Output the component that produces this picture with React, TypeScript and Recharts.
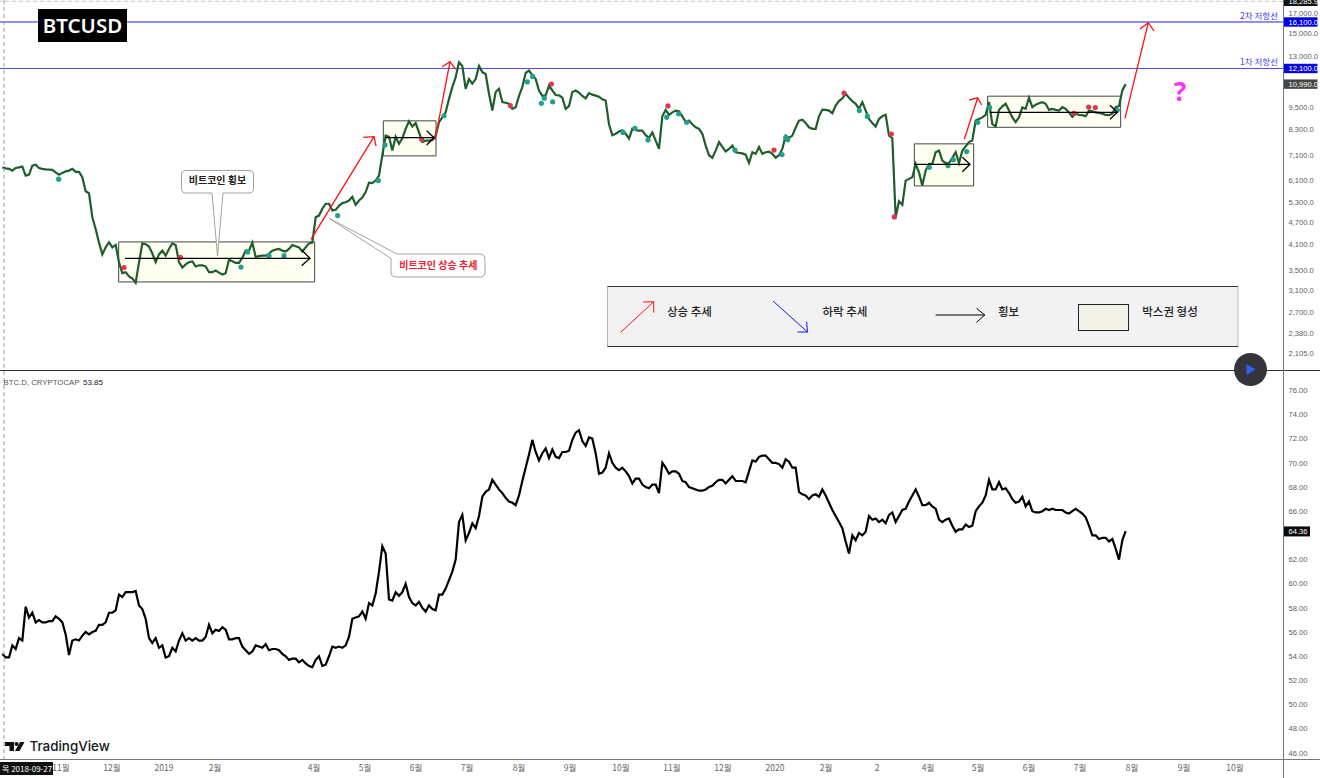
import { ComposedChart, Line, Scatter, XAxis, YAxis, ReferenceLine, ReferenceArea } from "recharts";

const WIDTH = 1320;
const TOP_HEIGHT = 370;
const BOTTOM_HEIGHT = 407;
const SANS = '"Liberation Sans", Arial, sans-serif';
const KOREAN = '"Noto Sans CJK KR", "Noto Sans", sans-serif';

// one sample every two days or so, starting at the end of september 2018
const btcPrices = [
  6590, 6550, 6530, 6460, 6565, 6590, 6620, 6265, 6300, 6660, 6700, 6565, 6530, 6510, 6500, 6490, 6390, 6300, 6370, 6430,
  6460, 6530, 6410, 6410, 6200, 5690, 5620, 4850, 4510, 4150, 3860, 4030, 4160, 4030, 4090, 3675, 3440, 3460, 3370, 3330,
  3240, 3675, 4130, 4110, 4050, 3880, 3680, 3860, 3950, 3830, 3990, 4130, 4090, 3680, 3560, 3630, 3680, 3695, 3585, 3610,
  3610, 3585, 3460, 3460, 3495, 3450, 3410, 3440, 3735, 3700, 3665, 3665, 3780, 3950, 3950, 4150, 3800, 3820, 3830, 3830,
  3880, 3950, 3975, 3990, 3950, 3930, 3990, 4090, 4060, 4030, 3930, 4030, 4130, 4150, 4850, 4900, 5110, 5270, 5270, 5055,
  5075, 5200, 5290, 5320, 5375, 5500, 5235, 5375, 5475, 5660, 6000, 5980, 6075, 6265, 7100, 8010, 7950, 7305, 7950, 7620,
  7880, 8350, 8750, 8470, 8650, 8170, 7700, 7770, 7770, 7800, 8010, 8700,
  8960, 9240, 10040, 10790, 11460, 12570, 12280, 10680, 11340, 11030, 11340, 12280, 11830, 11700, 10360, 9340, 10470, 10680, 9840, 9800,
  9740, 9440, 9540, 10220, 10790, 11780, 11950, 11620, 11340, 10570, 10220, 10260, 10890, 10570, 10280, 10260, 10110, 9440, 9600, 10470,
  10570, 10430, 10220, 10070, 10400, 10300, 10240, 10170, 10010, 9940, 8590, 8030, 8100, 8210, 8280, 8100, 7860, 8350, 8280, 8260,
  8260, 8030, 7900, 8170, 7770, 7380, 9020, 9380, 9100, 9240, 9340, 9300, 9020, 8700, 8785, 8590, 8430, 8350, 8100, 7530,
  7100, 6990, 7305, 7700, 7470, 7270, 7380, 7530, 7230, 7200, 7180, 7125, 6770, 7230, 7160, 7470, 7160, 7230, 7260, 7160,
  6990, 7100, 7380, 8010, 7900, 8010, 8410, 8785, 8830, 8650, 8430, 8350, 8350, 9020, 9400, 9380, 9340, 9190, 9640, 9900,
  10070, 10360, 10110, 9900, 9740, 9440, 9840, 9340, 8870, 8650, 8470, 8870,
  9020, 9100, 8010, 7880, 4850, 5350, 5235, 6075, 6140, 6200, 6730, 6390, 5890, 6460, 6730, 6730, 7230, 7305, 6870, 6760,
  6760, 6990, 7230, 6770, 7305, 7500, 7700, 7770, 8785, 8870, 8960, 9100, 9840, 8590, 8470, 9380, 9590, 9740, 9340, 8960,
  8700, 8960, 9520, 9440, 10110, 9540, 9690, 9770, 9840, 9740, 9380, 9440, 9380, 9340, 9540, 9440, 9240, 8990, 9160, 9100,
  9080, 9020, 9340, 9300, 9240, 9210, 9160, 9100, 9080, 9160, 9540, 9610, 10570, 10990,
];

const dominanceValues = [
  54.2, 53.9, 53.9, 54.9, 54.6, 55.5, 55.3, 58.1, 57.2, 57.6, 56.8, 57.0, 56.8, 56.8, 56.9, 56.9, 57.3, 57.1, 56.8, 55.8,
  54.1, 55.3, 55.4, 55.3, 55.7, 56.0, 55.8, 56.0, 56.1, 56.6, 56.6, 56.8, 57.6, 57.6, 57.8, 59.1, 58.9, 59.3, 59.3, 59.3,
  59.4, 58.2, 57.9, 57.1, 55.5, 55.1, 55.5, 54.7, 54.9, 53.9, 54.0, 54.7, 54.4, 55.3, 55.9, 55.3, 55.5, 55.3, 55.5, 55.3,
  55.3, 55.6, 56.6, 55.9, 56.2, 56.1, 56.4, 56.2, 55.4, 55.4, 55.5, 55.5, 54.8, 54.5, 54.2, 54.4, 54.9, 54.8, 54.7, 55.0,
  54.5, 54.6, 54.6, 54.5, 54.2, 54.0, 53.7, 53.8, 53.8, 53.5, 53.7, 53.4, 53.2, 53.1, 53.7, 54.0, 53.2, 53.3, 54.0, 54.8,
  54.7, 54.8, 54.7, 54.9, 55.6, 57.1, 57.2, 57.3, 57.7, 57.1, 58.4, 58.2, 59.2, 61.0, 63.1, 62.5, 58.7, 58.6, 59.3, 59.0,
  59.3, 60.0, 58.9, 58.4, 58.2, 58.5, 58.0, 57.7, 58.2, 57.9, 57.8, 59.1,
  59.1, 59.6, 60.3, 61.0, 62.0, 65.1, 65.7, 63.6, 64.2, 65.0, 64.6, 65.6, 67.2, 67.6, 67.8, 68.6, 68.2, 67.8, 67.5, 67.1,
  66.8, 66.7, 66.5, 67.3, 68.5, 69.6, 70.7, 71.9, 70.9, 70.2, 70.8, 71.2, 70.4, 71.1, 70.5, 70.4, 70.9, 70.9, 71.0, 71.9,
  72.5, 72.7, 71.8, 71.4, 72.1, 72.0, 70.8, 69.1, 69.2, 69.6, 70.8, 70.0, 69.6, 69.4, 69.6, 69.3, 68.9, 68.3, 68.7, 68.7,
  68.2, 68.0, 67.9, 68.2, 68.2, 67.5, 70.0, 69.6, 69.1, 69.3, 69.3, 69.1, 68.5, 68.4, 68.0, 67.9, 67.8, 67.7, 67.7, 67.8,
  68.0, 68.1, 68.4, 68.6, 68.6, 68.3, 68.6, 68.9, 68.5, 68.5, 68.5, 68.4, 69.3, 70.2, 70.1, 70.5, 70.6, 70.6, 70.3, 70.0,
  70.0, 69.9, 69.6, 70.3, 70.1, 69.6, 69.6, 67.6, 67.4, 67.3, 67.0, 67.3, 67.4, 67.2, 67.8, 67.3, 66.7, 66.1, 65.6, 65.1,
  64.6, 63.5, 62.5, 64.0, 63.6, 64.2, 64.0, 64.3, 65.6, 65.3, 65.4, 65.1,
  65.3, 65.0, 65.7, 65.9, 65.1, 65.6, 66.1, 66.2, 66.8, 67.3, 67.8, 67.2, 66.5, 66.5, 66.7, 66.4, 66.2, 65.3, 65.1, 65.3,
  65.4, 64.8, 64.3, 64.5, 64.5, 64.9, 64.7, 64.8, 66.0, 66.4, 66.7, 67.3, 68.6, 67.8, 67.8, 68.4, 67.8, 67.9, 67.5, 67.0,
  66.7, 66.8, 67.2, 66.4, 66.8, 66.0, 65.9, 65.9, 66.0, 66.2, 66.1, 66.2, 66.1, 66.1, 66.1, 65.9, 65.8, 66.0, 66.2, 66.0,
  65.8, 65.5, 64.8, 64.0, 64.0, 63.7, 63.8, 63.8, 63.5, 63.7, 62.9, 62.0, 63.6, 64.36,
];

// [sample, price]
const tealSignals = [
  [16.9, 6130], [71.6, 3570], [73.6, 3920], [80, 3830], [84.5, 3830], [100.6, 4900], [112.8, 6075], [114.8, 7560],
  [132.5, 9050], [157.5, 11140], [159.1, 11520], [161.7, 9770], [162.6, 10080], [165.1, 9860], [186.2, 8170], [189.8, 8370],
  [193.7, 7800], [199.3, 8960], [202.9, 9160], [205.3, 8690], [219.8, 7330], [233.9, 7130], [235, 7900], [235.6, 7810],
  [257.1, 9340], [259.5, 9010], [278.1, 6590], [283.7, 6660], [285.3, 6910], [289.3, 7260], [292.6, 8690], [296.2, 9520],
  [334.5, 9370],
];
const redSignals = [
  [36.5, 3560], [53.4, 3790], [125.8, 7830], [152.4, 9630], [164.7, 11000], [199.7, 9610], [231.5, 7330], [252.5, 10400],
  [266.7, 8090], [267.6, 4860], [321.5, 9190], [325.9, 9550], [327.9, 9520],
];

const priceTicks = [17000, 15000, 13000, 9500, 8300, 7100, 6100, 5300, 4700, 4100, 3500, 3100, 2700, 2380, 2105, 18285.9, 16100, 12100, 10990];
const priceTags: Record<number, string> = { 18285.9: "#111111", 16100: "#0000e6", 12100: "#0a0ad8", 10990: "#454545" };
const dominanceTicks = [76, 74, 72, 70, 68, 66, 62, 60, 58, 56, 54, 52, 50, 48, 46, 64.36];

const monthSamples = [17.6, 32.9, 48.5, 63.8, 93.5, 108.8, 124.1, 139.4, 155, 170.3, 185.6, 200.9, 216.2, 231.8, 247.1, 262.4, 277.7, 292.7, 308, 323.3, 338.9, 354.5, 369.8];
const monthLabels = ["11월", "12월", "2019", "2월", "4월", "5월", "6월", "7월", "8월", "9월", "10월", "11월", "12월", "2020", "2월", "2", "4월", "5월", "6월", "7월", "8월", "9월", "10월"];

// sideways ranges: sample from/to, price from/to
const rangeBoxes = [
  [34.9, 93.7, 3259, 4167],
  [114.3, 130.1, 7071, 8770],
  [273.6, 291.4, 5880, 7614],
  [295.6, 335.5, 8430, 10206],
];

const sampleDomain = [-0.7, 384.2];
const priceData = btcPrices.map((price, sample) => ({ sample, price }));
const dominanceData = dominanceValues.map((dominance, sample) => ({ sample, dominance }));

function signalData(list: number[][]) {
  return list.map(([sample, price]) => ({ sample, price }));
}

function SignalDot({ cx, cy, fill }: any) {
  return <circle cx={cx} cy={cy} r={2.6} fill={fill} />;
}

function NoDot() {
  return <g />;
}

function PriceTick({ y, payload }: any) {
  const tag = priceTags[payload.value];
  const label = payload.value.toLocaleString("en-US", { minimumFractionDigits: 1 });
  return (
    <g>
      {tag && <rect x={1283} y={y - 4.7} width={34.5} height={9.4} fill={tag} />}
      <text x={1288.5} y={y + 2.6} fontSize={7.6} fontFamily={SANS} fill={tag ? "#ffffff" : "#5c5c5c"}>
        {label}
      </text>
    </g>
  );
}

function DominanceTick({ y, payload }: any) {
  const last = payload.value === 64.36;
  return (
    <g>
      {last && <rect x={1283} y={y - 4.6} width={27} height={10} fill="#0b0b0b" />}
      <text x={1288.5} y={y + 2.7} fontSize={7.6} fontFamily={SANS} fill={last ? "#ffffff" : "#5c5c5c"}>
        {payload.value.toFixed(2)}
      </text>
    </g>
  );
}

function MonthTick({ x, index }: any) {
  return (
    <text x={x} y={400} textAnchor="middle" fontSize={8.5} fontFamily={KOREAN} fill="#666666">
      {monthLabels[index]}
    </text>
  );
}

function Arrow({ from, to, head, color, width = 1.3 }: { from: number[]; to: number[]; head: number[][]; color: string; width?: number }) {
  return (
    <g stroke={color} strokeWidth={width} fill="none">
      <line x1={from[0]} y1={from[1]} x2={to[0]} y2={to[1]} />
      <polyline points={`${head[0].join(",")} ${to.join(",")} ${head[1].join(",")}`} />
    </g>
  );
}

function Callout({ path, text, x, y, color }: { path: string; text: string; x: number; y: number; color: string }) {
  return (
    <g>
      <path d={path} fill="#ffffff" stroke="#8a8a8a" strokeWidth={0.8} />
      <text x={x} y={y} textAnchor="middle" fontSize={10} fontWeight={700} fontFamily={KOREAN} fill={color}>
        {text}
      </text>
    </g>
  );
}

function Annotations() {
  const legendFont = { fontSize: 11.5, fontWeight: 500, fontFamily: KOREAN, fill: "#222222", textAnchor: "middle" as const };
  return (
    <svg width={WIDTH} height={778} style={{ position: "absolute", left: 0, top: 0, pointerEvents: "none" }}>
      <line x1={4} y1={0} x2={4} y2={759} stroke="#9a9a9a" strokeDasharray="4 3" />
      <line x1={0} y1={370.5} x2={1320} y2={370.5} stroke="#333333" />
      <line x1={1283.5} y1={0} x2={1283.5} y2={778} stroke="#787878" />
      <line x1={0} y1={759.5} x2={1320} y2={759.5} stroke="#787878" />

      <Arrow from={[311, 239.3]} to={[374, 136.7]} head={[[363.3, 137.3], [376, 146]]} color="#ff1010" />
      <Arrow from={[435, 140]} to={[450, 61.7]} head={[[442.3, 66.7], [455.7, 69.3]]} color="#ff1010" />
      <Arrow from={[964.3, 139.3]} to={[977.7, 97.7]} head={[[969.3, 100], [981.7, 105]]} color="#ff1010" />
      <Arrow from={[1125, 118.3]} to={[1148.3, 22.7]} head={[[1140, 29], [1154, 31]]} color="#ff1010" />

      <Arrow from={[125, 258.3]} to={[310, 258.3]} head={[[301.7, 250], [301.7, 265.7]]} color="#000000" />
      <Arrow from={[385.7, 137.7]} to={[434, 137.7]} head={[[426.7, 130.7], [426.7, 145]]} color="#000000" />
      <Arrow from={[914.3, 164.3]} to={[970, 164.3]} head={[[962.3, 157.3], [962.3, 171.7]]} color="#000000" />
      <Arrow from={[990, 112.3]} to={[1117.3, 112.3]} head={[[1110, 105.3], [1110, 119.3]]} color="#000000" />

      <Callout
        path="M186 170.5 H249 Q253.5 170.5 253.5 175 V188.5 Q253.5 193 249 193 H223 L217.5 256 L212 193 H186 Q181.5 193 181.5 188.5 V175 Q181.5 170.5 186 170.5 Z"
        text="비트코인 횡보"
        x={217.5}
        y={184}
        color="#222222"
      />
      <Callout
        path="M397 254 H480 Q485 254 485 259 V272 Q485 277 480 277 H396 Q391 277 391 272 V258.5 L329.5 218.5 Z"
        text="비트코인 상승 추세"
        x={438.3}
        y={268.5}
        color="#ee2233"
      />

      <rect x={38} y={9} width={89} height={33} fill="#000000" />
      <text x={82.5} y={33} textAnchor="middle" fontSize={20.5} fontWeight={600} fontFamily='"Noto Sans", sans-serif' fill="#ffffff">
        BTCUSD
      </text>

      <text x={1278} y={18.5} textAnchor="end" fontSize={8.5} fontFamily={KOREAN} fill="#3a3af0">2차 저항선</text>
      <text x={1278} y={65} textAnchor="end" fontSize={8.5} fontFamily={KOREAN} fill="#4a4aee">1차 저항선</text>
      <text x={1180} y={101} textAnchor="middle" fontSize={26} fontWeight={700} fontFamily='"Noto Sans", sans-serif' fill="#ff33f0">?</text>

      <rect x={607.5} y={286.5} width={630.5} height={60} fill="#f2f2f2" stroke="#b5b5b5" />
      <line x1={607.5} y1={286.5} x2={1238} y2={286.5} stroke="#333333" />
      <line x1={607.5} y1={346.5} x2={1238} y2={346.5} stroke="#333333" />
      <Arrow from={[620.7, 332.3]} to={[653.7, 301.7]} head={[[643.2, 302], [653.7, 312.7]]} color="#ff1010" width={1} />
      <text x={689.5} y={316} {...legendFont}>상승 추세</text>
      <Arrow from={[773, 301]} to={[807.5, 332]} head={[[797.4, 332], [806.6, 321.7]]} color="#1414f0" width={1} />
      <text x={845} y={315.5} {...legendFont}>하락 추세</text>
      <Arrow from={[935.6, 315]} to={[984.8, 315]} head={[[976.5, 308.3], [976.5, 322.3]]} color="#000000" width={1} />
      <text x={1008.6} y={315.5} {...legendFont}>횡보</text>
      <rect x={1078.5} y={304.5} width={50} height={26} fill="#f2f2e9" stroke="#222222" />
      <text x={1170} y={315.5} {...legendFont}>박스권 형성</text>

      <circle cx={1250.5} cy={369.5} r={16.5} fill="#33353a" />
      <path d="M1246.5 364 L1255.5 369.5 L1246.5 375 Z" fill="#2e62f0" />

      <text x={3.5} y={385} fontSize={7.8} fontFamily={SANS} fill="#555555">BTC.D, CRYPTOCAP</text>
      <text x={83} y={385} fontSize={8} fontFamily={SANS} fill="#222222">53.85</text>

      <path d="M5 742 H14 V751 H9.5 V746 H5 Z M20 742 H24.5 L19.5 751 H15 Z" fill="#111111" />
      <circle cx={16.5} cy={744} r={2} fill="#111111" />
      <text x={29.5} y={751} fontSize={13.4} fontWeight={500} fontFamily='Inter, "Noto Sans", sans-serif' fill="#131722">TradingView</text>

      <rect x={0} y={762} width={53} height={13} fill="#111111" />
      <text x={2} y={771.5} fontSize={8} fontFamily={KOREAN} fill="#ffffff">목 2018-09-27</text>
    </svg>
  );
}

export default function App() {
  return (
    <div style={{ position: "absolute", left: 0, top: 0, width: WIDTH, height: 778, background: "#ffffff", overflow: "hidden" }}>
      <div style={{ position: "absolute", left: 0, top: 0 }}>
        <ComposedChart width={WIDTH} height={TOP_HEIGHT} data={priceData} margin={{ top: 0, right: 0, left: 0, bottom: 0 }}>
          <XAxis dataKey="sample" type="number" domain={sampleDomain} hide allowDataOverflow />
          <YAxis
            orientation="right"
            width={37}
            scale="log"
            domain={[1897, 18430]}
            ticks={priceTicks}
            interval={0}
            tick={<PriceTick />}
            axisLine={false}
            tickLine={false}
            allowDataOverflow
          />
          {rangeBoxes.map(([x1, x2, y1, y2]) => (
            <ReferenceArea key={x1} x1={x1} x2={x2} y1={y1} y2={y2} fill="#fffff2" fillOpacity={1} stroke="#444444" strokeWidth={1} />
          ))}
          <ReferenceLine y={18285.9} stroke="#c4c4c4" strokeDasharray="4 3" />
          <ReferenceLine y={16100} stroke="#1f1ff0" />
          <ReferenceLine y={12100} stroke="#4c4ce6" />
          <Line dataKey="price" stroke="#1e5e2a" strokeWidth={2.2} dot={<NoDot />} activeDot={false} isAnimationActive={false} />
          <Scatter data={signalData(tealSignals)} dataKey="price" fill="#1fa091" shape={<SignalDot />} isAnimationActive={false} />
          <Scatter data={signalData(redSignals)} dataKey="price" fill="#e8334a" shape={<SignalDot />} isAnimationActive={false} />
        </ComposedChart>
      </div>
      <div style={{ position: "absolute", left: 0, top: 371 }}>
        <ComposedChart width={WIDTH} height={BOTTOM_HEIGHT} data={dominanceData} margin={{ top: 0, right: 0, left: 0, bottom: 0 }}>
          <XAxis
            dataKey="sample"
            type="number"
            domain={sampleDomain}
            ticks={monthSamples}
            interval={0}
            height={19}
            tick={<MonthTick />}
            axisLine={false}
            tickLine={false}
            allowDataOverflow
          />
          <YAxis
            orientation="right"
            width={37}
            domain={[45.5, 77.6]}
            ticks={dominanceTicks}
            interval={0}
            tick={<DominanceTick />}
            axisLine={false}
            tickLine={false}
            allowDataOverflow
          />
          <Line dataKey="dominance" stroke="#000000" strokeWidth={2.2} dot={false} isAnimationActive={false} />
        </ComposedChart>
      </div>
      <Annotations />
    </div>
  );
}
